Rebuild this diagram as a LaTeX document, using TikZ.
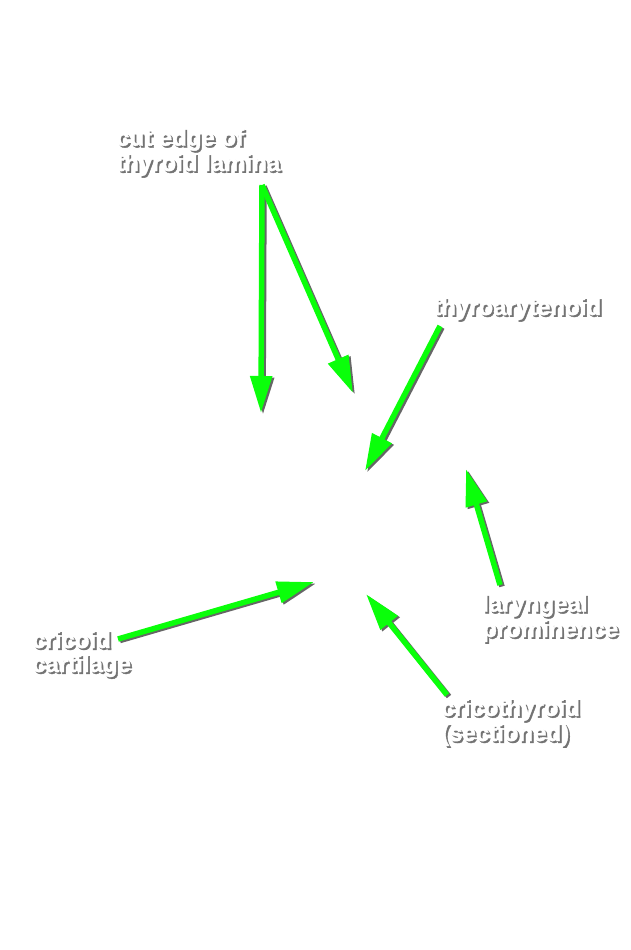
\documentclass[tikz,border=0pt]{standalone}
\usepackage{fontspec}
\setmainfont{Liberation Sans}
\newfontfamily\lblfont[FakeBold=1.6]{Liberation Sans Bold}
\usetikzlibrary{arrows.meta}
\definecolor{arrowgreen}{RGB}{10,255,10}
\newcommand\shd[1]{\rlap{\raisebox{-1.8pt}{\hspace{1.8pt}\textcolor{black!55}{#1}}}#1}

\begin{document}
\begin{tikzpicture}[x=1pt,y=-1pt,
    lbl/.style={anchor=base west,inner sep=0pt,align=left,
      font=\lblfont\fontsize{24}{24}\selectfont,text=white},
    pointer/.style={draw=arrowgreen,line width=5.5pt,
      -{Triangle[length=37pt,width=21pt]}},
    pointershade/.style={pointer,draw=black!60}]
   \useasboundingbox[fill=white] (0,0) rectangle (631,950);
   % labels (anchored at the last baseline)
   \node[lbl] (cut) at (116,171) {\shd{cut edge of}\\\shd{thyroid lamina}};
   \node[lbl] (ta) at (433,315) {\shd{thyroarytenoid}};
   \node[lbl] (lp) at (482,637) {\shd{laryngeal}\\\shd{prominence}};
   \node[lbl] (cc) at (32,672) {\shd{cricoid}\\\shd{cartilage}};
   \node[lbl] (ct) at (441,741) {\shd{cricothyroid}\\\shd{(sectioned)}};
   % arrow ends
   \coordinate (cut tail) at (262,185);
   \coordinate (cut tip a) at (261,413);
   \coordinate (cut tip b) at (353,393);
   \coordinate (ta tail) at (440,326);
   \coordinate (ta tip) at (365,471);
   \coordinate (lp tail) at (500,585);
   \coordinate (lp tip) at (466,469);
   \coordinate (cc tail) at (118,639);
   \coordinate (cc tip) at (314,582);
   \coordinate (ct tail) at (447,695);
   \coordinate (ct tip) at (366,594);
   \foreach \from/\to in {cut tail/cut tip a,cut tail/cut tip b,ta tail/ta tip,
                          lp tail/lp tip,cc tail/cc tip,ct tail/ct tip} {
     \draw[pointershade] ([shift={(2,1.5)}]\from) -- ([shift={(2,1.5)}]\to);
     \draw[pointer] (\from) -- (\to);
   }
\end{tikzpicture}
\end{document}
